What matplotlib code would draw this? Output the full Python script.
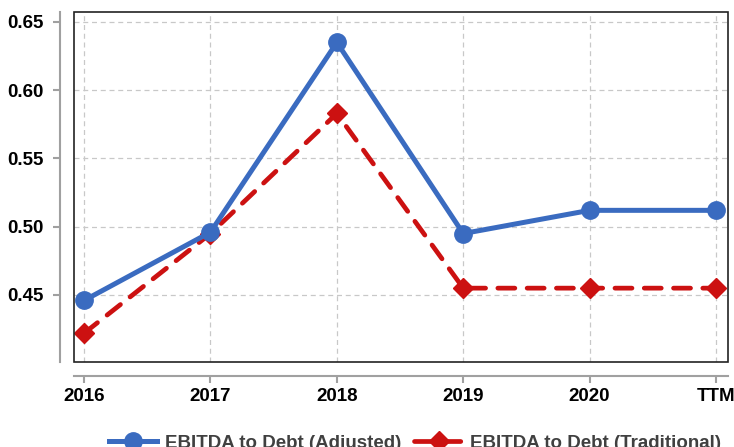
import matplotlib
matplotlib.use('Agg')
import matplotlib.pyplot as plt
from matplotlib.patches import Rectangle

plt.rcParams['font.family'] = ['Liberation Sans', 'DejaVu Sans']
plt.rcParams['font.weight'] = 'bold'

BLUE = '#3A6BC0'
RED = '#CC1111'
GREY = '#A0A0A0'

periods = ['2016', '2017', '2018', '2019', '2020', 'TTM']
adjusted = [0.446, 0.496, 0.635, 0.495, 0.512, 0.512]
traditional = [0.422, 0.495, 0.583, 0.455, 0.455, 0.455]
yticks = [0.45, 0.50, 0.55, 0.60, 0.65]

fig = plt.figure(figsize=(7.34, 4.47), dpi=100)
ax = fig.add_axes([74 / 734, 1 - 362 / 447, 654 / 734, 350 / 447])

x = list(range(len(periods)))
ax.plot(x, adjusted, color=BLUE, linewidth=3.6, marker='o', markersize=12.5,
        label='EBITDA to Debt (Adjusted)', zorder=4)
ax.plot(x, traditional, color=RED, linewidth=3.4, linestyle=(0, (3.6, 2.6)),
        dash_capstyle='round', marker='D', markersize=10.5,
        label='EBITDA to Debt (Traditional)', zorder=3)

ax.set_xlim(-0.08, 5.095)
ax.set_ylim(0.4009, 0.6573)
ax.set_xticks(x)
ax.set_xticklabels(periods)
ax.set_yticks(yticks)
ax.set_yticklabels([f'{v:.2f}' for v in yticks])

ax.grid(True, color='#C8C8C8', linestyle=(0, (4, 3)), linewidth=0.9)
ax.set_axisbelow(True)

for s in ['top', 'right']:
    ax.spines[s].set_visible(False)
for s in ['left', 'bottom']:
    ax.spines[s].set_position(('outward', 10))
    ax.spines[s].set_color(GREY)
    ax.spines[s].set_linewidth(1.5)
ax.add_patch(Rectangle((0, 0), 1, 1, transform=ax.transAxes, fill=False,
                       edgecolor='#222222', linewidth=1.2, clip_on=False, zorder=5))

ax.tick_params(axis='both', colors=GREY, width=1.5, length=5,
               labelcolor='black', labelsize=13.5)
ax.tick_params(axis='y', pad=7)
ax.tick_params(axis='x', pad=4)

fig.legend(loc='center', bbox_to_anchor=(415 / 734, 1 - 443 / 447), ncol=2,
           frameon=False, fontsize=13.5, handlelength=2.6, columnspacing=0.7,
           handletextpad=0.4, labelcolor='#404040')

fig.savefig('out.png', dpi=100)
